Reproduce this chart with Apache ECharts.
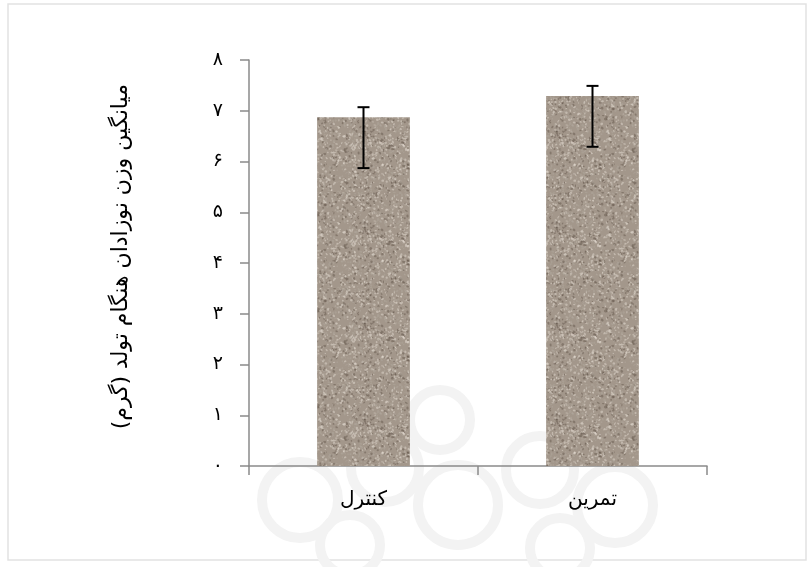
<!DOCTYPE html>
<html><head><meta charset="utf-8">
<script src="https://cdn.jsdelivr.net/npm/echarts@6/dist/echarts.min.js"></script>
<style>html,body{margin:0;padding:0;background:#fff}#c{width:811px;height:567px}</style>
</head><body><div id="c"></div>
<script>
const categories = ['کنترل', 'تمرین'];
const means = [6.87, 7.29];
const errLow = [5.87, 6.29];
const errHigh = [7.07, 7.49];
const yTickLabels = ['۰','۱','۲','۳','۴','۵','۶','۷','۸'];
const yTitle = 'میانگین وزن نوزادان هنگام تولد (گرم)';

// deterministic gravel-like texture (style only)
function makeTexture() {
  const c = document.createElement('canvas');
  c.width = 96; c.height = 96;
  const g = c.getContext('2d');
  g.fillStyle = '#a3978b'; g.fillRect(0,0,96,96);
  let s = 12345;
  const rnd = () => { s = (s * 1103515245 + 12345) & 0x7fffffff; return s / 0x7fffffff; };
  for (let i = 0; i < 1400; i++) {
    const x = rnd()*96, y = rnd()*96, r = rnd();
    const t = rnd();
    g.fillStyle = t < 0.25 ? 'rgba(95,82,72,0.45)' : (t < 0.65 ? 'rgba(225,218,208,0.5)' : 'rgba(175,165,155,0.55)');
    g.beginPath();
    g.ellipse(x, y, 0.6 + r*1.0, 0.5 + rnd()*0.8, rnd()*3.14, 0, Math.PI*2);
    g.fill();
  }
  return c;
}

const wm = (cx, cy, r) => ({type:'circle', silent:true, z:-5, shape:{cx, cy, r}, style:{fill:'none', stroke:'#f3f3f3', lineWidth:10}});

const chart = echarts.init(document.getElementById('c'), null, {renderer:'canvas'});
const font = "'DejaVu Sans', sans-serif";
chart.setOption({
  backgroundColor: '#fff',
  animation: false,
  graphic: [
    {type:'rect', silent:true, shape:{x:8,y:4,width:798,height:556}, style:{fill:'none', stroke:'#e2e2e2', lineWidth:1.5}, z:-10},
    wm(300, 500, 38), wm(385, 468, 34), wm(458, 505, 40), wm(540, 470, 34), wm(615, 505, 38),
    wm(350, 545, 30), wm(560, 548, 30), wm(440, 420, 30),
    {type:'text', left:110, top:84, rotation: Math.PI/2, style:{text: yTitle, font: "22px 'DejaVu Sans'", fill:'#000'}}
  ],
  grid: {left:249, right:104, top:60, bottom:101, containLabel:false},
  xAxis: {
    type:'category', data: categories,
    axisLine:{lineStyle:{color:'#8a8a8a', width:1.5}},
    axisTick:{show:true, length:9, lineStyle:{color:'#8a8a8a', width:1.5}},
    axisLabel:{color:'#000', fontSize:20, fontFamily:font, margin:24}
  },
  yAxis: {
    type:'value', min:0, max:8, interval:1,
    splitLine:{show:false},
    axisLine:{show:true, lineStyle:{color:'#8a8a8a', width:1.5}},
    axisTick:{show:true, length:9, lineStyle:{color:'#8a8a8a', width:1.5}},
    axisLabel:{color:'#000', fontSize:19, fontFamily:font, margin:26,
      formatter: v => yTickLabels[Math.round(v)]}
  },
  series: [
    {type:'bar', data: means, barWidth:'40.5%',
     itemStyle:{color:{image: makeTexture(), repeat:'repeat'}}},
    {type:'custom', data: categories.map((c,i)=>[i, errLow[i], errHigh[i]]), z:10,
     renderItem: (params, api) => {
       const i = api.value(0);
       const lo = api.coord([i, api.value(1)]);
       const hi = api.coord([i, api.value(2)]);
       const w = 6;
       const st = {stroke:'#000', lineWidth:2};
       return {type:'group', children:[
         {type:'line', shape:{x1:hi[0], y1:hi[1], x2:lo[0], y2:lo[1]}, style:st},
         {type:'line', shape:{x1:hi[0]-w, y1:hi[1], x2:hi[0]+w, y2:hi[1]}, style:st},
         {type:'line', shape:{x1:lo[0]-w, y1:lo[1], x2:lo[0]+w, y2:lo[1]}, style:st}
       ]};
     }}
  ]
});
</script></body></html>
